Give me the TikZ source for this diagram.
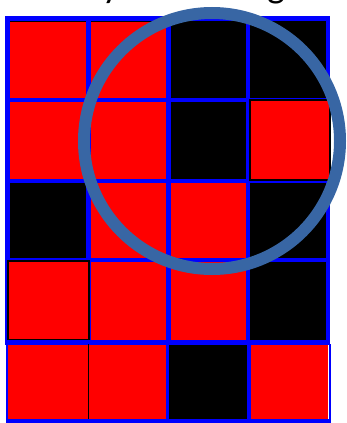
\documentclass[tikz,border=0pt]{standalone}
\usepackage{fontspec}
\setmainfont{Carlito}
\definecolor{cellred}{HTML}{FF0000}
\definecolor{gridblue}{HTML}{0000FF}
\definecolor{ringblue}{HTML}{3866A4}
\begin{document}
\begin{tikzpicture}[x=1pt,y=-1pt,
  redcell/.style={fill=cellred},
  blackcell/.style={fill=black},
  gridline/.style={draw=gridblue,line width=4.5pt},
  overcell/.style={fill=cellred,draw=black,line width=1.5pt},
  titletext/.style={anchor=base,inner sep=0pt,font=\fontsize{38}{40}\selectfont}]
\useasboundingbox (0,0) rectangle (347,423);
\clip (0,0) rectangle (347,423);
% title fragments (cut off)
\node[titletext] (ty) at (111,-2) {y};
\node[titletext] (tg) at (276,-2) {g};
% cells
\def\cx{{7.5,88.5,168.5,248,328}}
\def\ry{{18.5,100,181,260,342.5,421}}
\foreach \r/\c/\s in {0/0/redcell,0/1/redcell,0/2/blackcell,0/3/blackcell,
                      1/0/redcell,1/1/redcell,1/2/blackcell,1/3/redcell,
                      2/0/blackcell,2/1/redcell,2/2/redcell,2/3/blackcell,
                      3/0/redcell,3/1/redcell,3/2/redcell,3/3/blackcell,
                      4/0/redcell,4/1/redcell,4/2/blackcell,4/3/redcell}{
  \pgfmathsetmacro\xa{\cx[\c]}
  \pgfmathsetmacro\xb{\cx[\c+1]}
  \pgfmathsetmacro\ya{\ry[\r]}
  \pgfmathsetmacro\yb{\ry[\r+1]}
  \path[\s] (\xa,\ya) rectangle (\xb,\yb);
}
% thin black edge under the top blue line
\draw[black,line width=1.3pt] (9,21.3) -- (326,21.3);
% blue grid (rows 1-4)
\foreach \x in {7.5,88.5,168.5,248,328}{\draw[gridline] (\x,16.25) -- (\x,344.75);}
\foreach \y in {18.5,100,181,260,342.5}{\draw[gridline] (5.25,\y) -- (330.25,\y);}
% overlaid red cells with black outline
\path[overcell] (250,100) rectangle (330,180);
\path[overcell] (8,261) rectangle (89,339.5);
% bottom row lines
\draw[black,line width=1.5pt] (88.5,344) -- (88.5,420);
\draw[gridblue,line width=3.5pt] (167.5,344) -- (167.5,420);
\draw[gridblue,line width=3.5pt] (249,344) -- (249,420);
\draw[gridblue,line width=2pt] (7,344) -- (7,421);
\draw[gridblue,line width=2pt] (330,344) -- (330,421);
\draw[gridblue,line width=4pt] (6,421) -- (331,421);
% ring
\draw[ringblue,line width=12pt] (212,141) circle[radius=128];
\end{tikzpicture}
\end{document}
